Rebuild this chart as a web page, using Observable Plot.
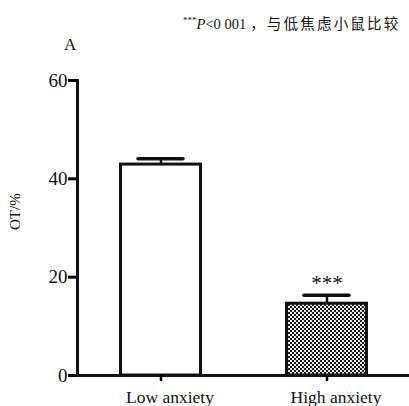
<!DOCTYPE html>
<html><head><meta charset="utf-8">
<script src="https://cdn.jsdelivr.net/npm/d3@7"></script>
<script src="https://cdn.jsdelivr.net/npm/@observablehq/plot@0.6"></script>
<style>
body{margin:0;background:#fff;}
#wrap{position:relative;width:409px;height:406px;font-family:"Liberation Serif","DejaVu Serif",serif;}
#title{position:absolute;left:183px;top:12px;font-size:14.5px;white-space:nowrap;color:#111;}
#title i{font-style:italic;}
#title .cjk{font-family:"Noto Sans CJK SC";font-size:14.5px;letter-spacing:2.2px;padding-left:4px;}
#panel{position:absolute;left:64px;top:35px;font-size:17px;color:#111;}
svg{position:absolute;left:0;top:0;}
</style></head>
<body><div id="wrap">
<div id="title"><sup style="font-size:9px">***</sup><i>P</i>&lt;0 001<span class="cjk">，与低焦虑小鼠比较</span></div>
<div id="panel">A</div>
</div>
<script>
const groups = ["Low anxiety", "High anxiety"];
const means = [42.9, 14.6];
const errors = [1.2, 1.7];
const sig = ["", "***"];
const yTicks = [0, 20, 40, 60];

const data = groups.map((g, i) => ({g, m: means[i], e: errors[i], s: sig[i], hi: means[i] + errors[i]}));

const chart = Plot.plot({
  width: 409, height: 406,
  marginLeft: 77, marginRight: 0, marginTop: 80, marginBottom: 31,
  style: {fontFamily: "Liberation Serif, serif", background: "white", color: "#111"},
  x: {domain: groups, paddingInner: 0.5, paddingOuter: 0.25, label: null},
  y: {domain: [0, 60], ticks: yTicks, label: null},
  marks: [
    Plot.ruleX(data, {x: "g", y1: "m", y2: "hi", stroke: "#111", strokeWidth: 2.5}),
    Plot.tickY(data, {x: "g", y: "hi", stroke: "#111", strokeWidth: 3.5, strokeLinecap: "round", insetLeft: 19, insetRight: 19}),
    Plot.barY(data, {x: "g", y: "m", fill: (d, i) => i === 0 ? "white" : "url(#checker)", stroke: "#111", strokeWidth: 3, insetLeft: 1.5, insetRight: 1.5}),
    Plot.text(data, {x: "g", y: "hi", text: "s", dy: -12, fontSize: 21, fill: "#111"}),
    Plot.ruleY([0], {stroke: "#111", strokeWidth: 3}),
    Plot.axisY({ticks: yTicks, tickSize: 9, tickPadding: 1, fontSize: 19, stroke: "#000", fill: "#111", strokeWidth: 3, label: null}),
    Plot.axisX({tickSize: 6, tickPadding: 9, fontSize: 17.5, stroke: "#000", fill: "#111", strokeWidth: 2.5, textStroke: "none", label: null, dx: 0}),
    Plot.frame({anchor: "left", stroke: "#111", strokeWidth: 3}),
    Plot.text(["OT/%"], {frameAnchor: "left", dx: -62, dy: 2, rotate: -90, fontSize: 15, fill: "#111"})
  ]
});

// shift x tick labels right as in the reference
chart.querySelectorAll("g[aria-label='x-axis tick label'] text").forEach(t => {
  t.setAttribute("dx", "9");
});

// pattern defs
const ns = "http://www.w3.org/2000/svg";
const defs = document.createElementNS(ns, "defs");
defs.innerHTML = `<pattern id="checker" width="4" height="4" patternUnits="userSpaceOnUse">
  <rect width="4" height="4" fill="#e8e8e8"/>
  <rect x="0" y="0" width="2" height="2" fill="#1a1a1a"/>
  <rect x="2" y="2" width="2" height="2" fill="#1a1a1a"/>
</pattern>`;
chart.insertBefore(defs, chart.firstChild);
document.getElementById("wrap").insertBefore(chart, document.getElementById("wrap").firstChild);
</script>
</body></html>
